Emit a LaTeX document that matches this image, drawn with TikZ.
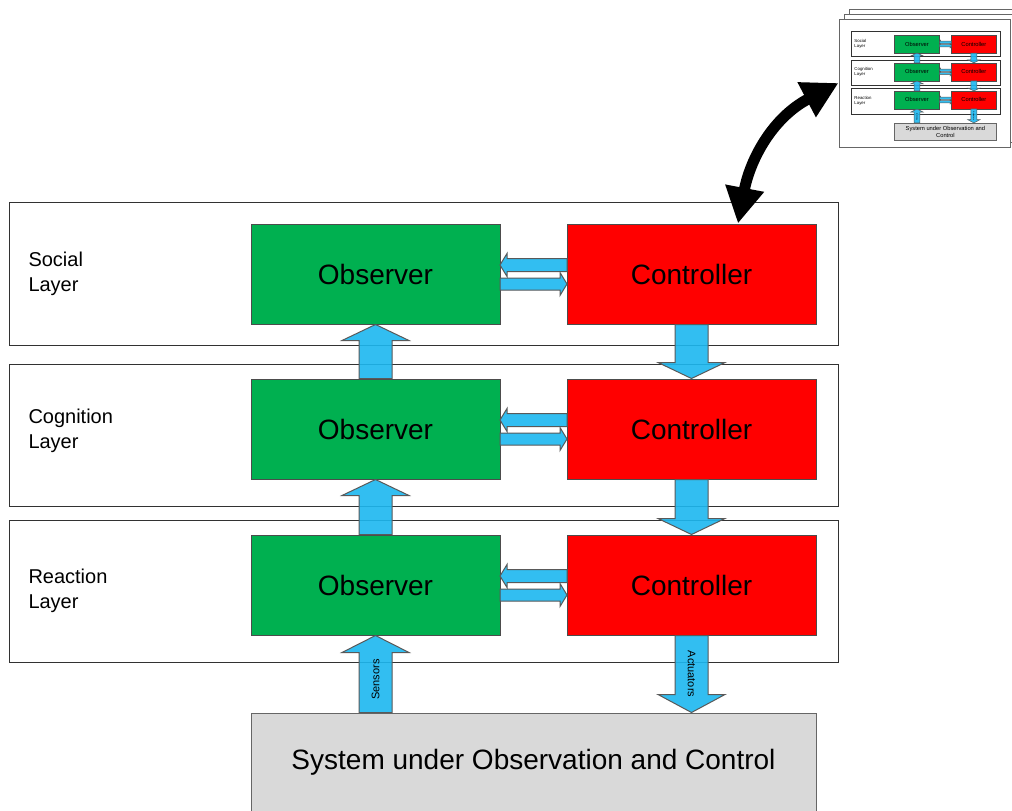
\documentclass[tikz,border=0pt]{standalone}
\usepackage{fontspec}
\setmainfont{Liberation Sans}
\usetikzlibrary{calc,arrows.meta}

\definecolor{obsgreen}{RGB}{0,176,80}
\definecolor{ctlred}{RGB}{255,0,0}
\definecolor{flowblue}{RGB}{28,184,240}
\definecolor{sysgray}{RGB}{217,217,217}
\definecolor{edge}{RGB}{50,50,50}

\tikzset{
  frame/.style={draw=edge, rectangle, inner sep=0pt, minimum width=829pt},
  obsbox/.style={draw=black!70, fill=obsgreen, inner sep=0pt,
    minimum width=249pt, minimum height=100pt, font=\fontsize{28}{32}\selectfont},
  ctlbox/.style={draw=black!70, fill=ctlred, inner sep=0pt,
    minimum width=249pt, minimum height=100pt, font=\fontsize{28}{32}\selectfont},
  sysbox/.style={draw=black!60, fill=sysgray, inner sep=0pt,
    minimum width=565pt, minimum height=98pt, font=\fontsize{28}{32}\selectfont},
  layerlabel/.style={anchor=west, align=left, inner sep=0pt,
    font=\fontsize{20}{25}\selectfont},
  flowlabel/.style={inner sep=0pt, font=\fontsize{11}{13}\selectfont},
  flow/.style={draw=black!65, fill=flowblue, fill opacity=0.9, line join=miter},
  page/.style={draw=black!60, fill=white, inner sep=0pt,
    minimum width=171pt, minimum height=128pt},
  link/.style={line width=11pt,
    {Triangle[length=36pt,width=37pt]}-{Triangle[length=36pt,width=37pt]}},
}

% caption of the bottom box
\newcommand\systext{System under Observation and Control}

% block arrow: #1 tail, #2 tip, #3 shaft half width, #4 head half width, #5 head length
\newcommand\blockarrow[5]{%
  \coordinate (ba-base) at ($(#2)!{#5*1pt}!(#1)$);
  \filldraw[flow]
    ($(#1)!{#3*1pt}!90:(#2)$)
    -- ($(ba-base)!{#3*1pt}!-90:(#1)$)
    -- ($(ba-base)!{#4*1pt}!-90:(#1)$)
    -- (#2)
    -- ($(ba-base)!{#4*1pt}!90:(#1)$)
    -- ($(ba-base)!{#3*1pt}!90:(#1)$)
    -- ($(#1)!{#3*1pt}!-90:(#2)$)
    -- cycle;
}

% the three-layer observer/controller architecture; #1 prefixes all names
\newcommand\layerstack[1]{%
  \node[frame, minimum height=143pt] (#1soc) at (423.5,273.5) {};
  \node[frame, minimum height=142pt] (#1cog) at (423.5,435) {};
  \node[frame, minimum height=142pt] (#1rea) at (423.5,591) {};
  \node[layerlabel] (#1socl) at (28,273.5) {Social\\Layer};
  \node[layerlabel] (#1cogl) at (28,431) {Cognition\\Layer};
  \node[layerlabel] (#1real) at (28,591) {Reaction\\Layer};
  \foreach \n/\c in {1/274,2/429,3/585}{
    \node[obsbox] (#1obs\n) at (375.5,\c) {Observer};
    \node[ctlbox] (#1ctl\n) at (691.5,\c) {Controller};
    \coordinate (#1fbA\n) at (567,\c-9);
    \coordinate (#1fbB\n) at (500,\c-9);
    \coordinate (#1ffA\n) at (500,\c+10);
    \coordinate (#1ffB\n) at (567,\c+10);
    \blockarrow{#1fbA\n}{#1fbB\n}{6.5}{11.5}{7}
    \blockarrow{#1ffA\n}{#1ffB\n}{6}{11.5}{7}
  }
  \node[sysbox] (#1sys) at (533.5,762) {\systext};
  % observations travel up, control travels down
  \blockarrow{#1obs3.north}{#1obs2.south}{16.5}{33.5}{16}
  \blockarrow{#1obs2.north}{#1obs1.south}{16.5}{33.5}{16}
  \blockarrow{#1ctl1.south}{#1ctl2.north}{16.5}{33.5}{16}
  \blockarrow{#1ctl2.south}{#1ctl3.north}{16.5}{33.5}{16}
  \blockarrow{#1sys.north -| #1obs3.south}{#1obs3.south}{16.5}{33.5}{17}
  \blockarrow{#1ctl3.south}{#1sys.north -| #1ctl3.south}{16.5}{33.5}{18}
  \node[flowlabel, rotate=90] (#1sens) at ($(#1obs3.south)!0.57!(#1sys.north -| #1obs3.south)$) {Sensors};
  \node[flowlabel, rotate=-90] (#1act) at ($(#1ctl3.south)!0.5!(#1sys.north -| #1ctl3.south)$) {Actuators};
}

\begin{document}
\begin{tikzpicture}[x=1pt, y=-1pt, line width=1pt]
  \useasboundingbox (0,0) rectangle (1012,811);
  \fill[white] (0,0) rectangle (1012,811);

  % stack of pages holding a miniature of the architecture
  \node[page] (pagec) at (934.5,73) {};
  \node[page] (pageb) at (929.5,78) {};
  \node[page] (page) at (924.5,83) {};
  \begin{scope}[shift={(849.4,-5.36)}, scale=0.18, transform shape, line width=0.5pt,
      obsbox/.append style={font=\fontsize{32}{36}\selectfont},
      ctlbox/.append style={font=\fontsize{32}{36}\selectfont},
      layerlabel/.append style={font=\fontsize{24}{29}\selectfont},
      sysbox/.append style={font=\fontsize{32}{38}\selectfont, align=center}]
    \renewcommand\systext{System under Observation and\\Control}
    \layerstack{t}
  \end{scope}

  % full-size architecture
  \layerstack{m}

  % link between the controller and the stacked miniatures
  \draw[link] ([xshift=46.5pt]mctl1.north) .. controls (750,160) and (772,118) .. (page.west);
\end{tikzpicture}
\end{document}
